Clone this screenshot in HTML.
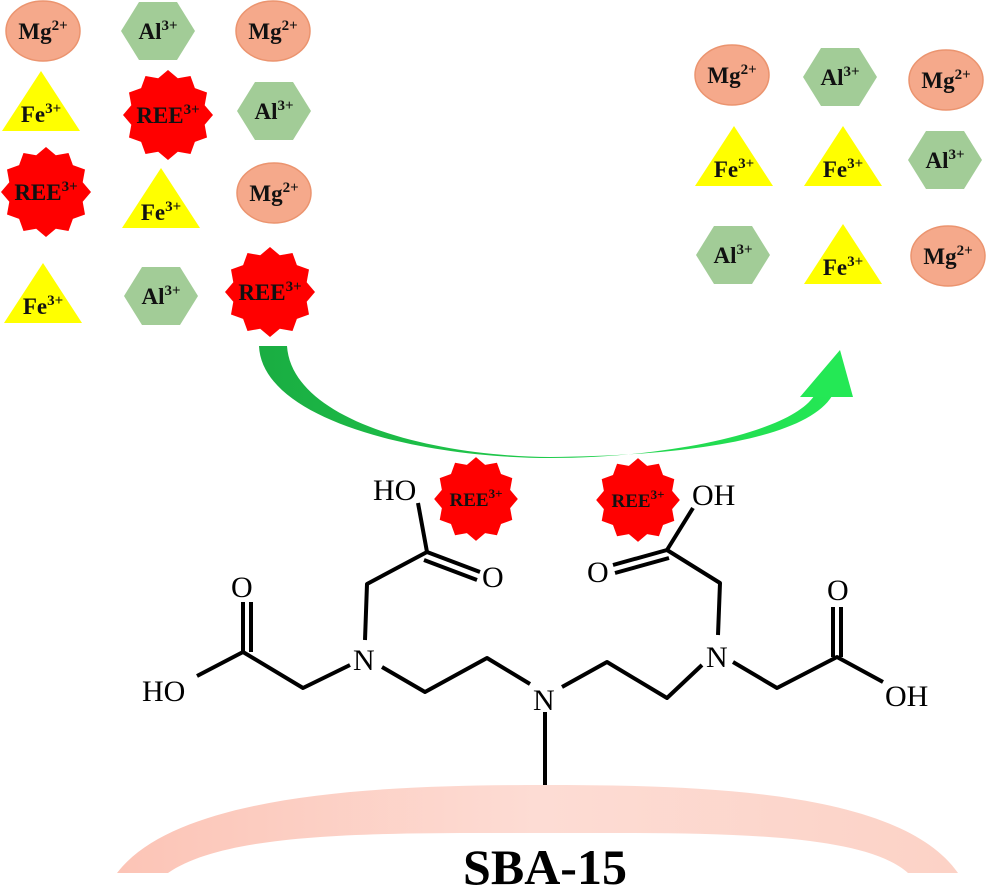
<!DOCTYPE html>
<html><head><meta charset="utf-8"><style>
html,body{margin:0;padding:0;background:#fff;}
svg{display:block;}
.ion{font-family:"Liberation Serif",serif;font-weight:bold;font-size:23px;fill:#111;}
.sup{font-size:15px;}
.chem{font-family:"Liberation Serif",serif;font-size:30px;fill:#000;}
.b{stroke:#000;stroke-width:4;fill:none;stroke-linecap:butt;stroke-linejoin:round;}
</style></head><body>
<svg width="990" height="886" viewBox="0 0 990 886" xmlns="http://www.w3.org/2000/svg">
<defs>
<polygon id="star" points="0,-45 9.8,-36.7 22.5,-39 26.9,-26.9 39,-22.5 36.7,-9.8 45,0 36.7,9.8 39,22.5 26.9,26.9 22.5,39 9.8,36.7 0,45 -9.8,36.7 -22.5,39 -26.9,26.9 -39,22.5 -36.7,9.8 -45,0 -36.7,-9.8 -39,-22.5 -26.9,-26.9 -22.5,-39 -9.8,-36.7" fill="#ff0000"/>
<polygon id="hex" points="-37,0 -19,-29 19,-29 37,0 19,29 -19,29" fill="#a2cc97"/>
<ellipse id="mg" cx="0" cy="0" rx="37" ry="30" fill="#f5a98b" stroke="#eb946f" stroke-width="1.5"/>
<polygon id="tri" points="0,-30 39,30 -39,30" fill="#ffff00"/>
<linearGradient id="ag" x1="0" y1="0" x2="1" y2="0">
<stop offset="0" stop-color="#1aad42"/><stop offset="1" stop-color="#24e855"/></linearGradient>
<linearGradient id="sg" x1="0" y1="0" x2="1" y2="0">
<stop offset="0" stop-color="#fcc4b6"/><stop offset="0.5" stop-color="#fddcd4"/><stop offset="1" stop-color="#fcd2c6"/></linearGradient>
</defs>

<!-- left group -->
<use href="#mg" x="43" y="31"/><text class="ion" x="43" y="39" text-anchor="middle">Mg<tspan class="sup" dy="-9">2+</tspan></text>
<use href="#hex" x="158" y="31"/><text class="ion" x="158" y="39" text-anchor="middle">Al<tspan class="sup" dy="-9">3+</tspan></text>
<use href="#mg" x="273" y="31"/><text class="ion" x="273" y="39" text-anchor="middle">Mg<tspan class="sup" dy="-9">2+</tspan></text>

<use href="#tri" x="41" y="101"/><text class="ion" x="41" y="122" text-anchor="middle">Fe<tspan class="sup" dy="-9">3+</tspan></text>
<use href="#star" x="168" y="115"/><text class="ion" x="168" y="123" text-anchor="middle">REE<tspan class="sup" dy="-9">3+</tspan></text>
<use href="#hex" x="274" y="111"/><text class="ion" x="274" y="119" text-anchor="middle">Al<tspan class="sup" dy="-9">3+</tspan></text>

<use href="#star" x="46" y="192"/><text class="ion" x="46" y="200" text-anchor="middle">REE<tspan class="sup" dy="-9">3+</tspan></text>
<use href="#tri" x="161" y="198"/><text class="ion" x="161" y="220" text-anchor="middle">Fe<tspan class="sup" dy="-9">3+</tspan></text>
<use href="#mg" x="274" y="193"/><text class="ion" x="274" y="201" text-anchor="middle">Mg<tspan class="sup" dy="-9">2+</tspan></text>

<use href="#tri" x="43" y="293"/><text class="ion" x="43" y="314" text-anchor="middle">Fe<tspan class="sup" dy="-9">3+</tspan></text>
<use href="#hex" x="161" y="296"/><text class="ion" x="161" y="304" text-anchor="middle">Al<tspan class="sup" dy="-9">3+</tspan></text>
<use href="#star" x="270" y="292"/><text class="ion" x="270" y="300" text-anchor="middle">REE<tspan class="sup" dy="-9">3+</tspan></text>

<!-- right group -->
<use href="#mg" x="732" y="75"/><text class="ion" x="732" y="83" text-anchor="middle">Mg<tspan class="sup" dy="-9">2+</tspan></text>
<use href="#hex" x="840" y="77"/><text class="ion" x="840" y="85" text-anchor="middle">Al<tspan class="sup" dy="-9">3+</tspan></text>
<use href="#mg" x="946" y="80"/><text class="ion" x="946" y="88" text-anchor="middle">Mg<tspan class="sup" dy="-9">2+</tspan></text>

<use href="#tri" x="734" y="156"/><text class="ion" x="734" y="177" text-anchor="middle">Fe<tspan class="sup" dy="-9">3+</tspan></text>
<use href="#tri" x="843" y="156"/><text class="ion" x="843" y="177" text-anchor="middle">Fe<tspan class="sup" dy="-9">3+</tspan></text>
<use href="#hex" x="945" y="160"/><text class="ion" x="945" y="168" text-anchor="middle">Al<tspan class="sup" dy="-9">3+</tspan></text>

<use href="#hex" x="733" y="255"/><text class="ion" x="733" y="263" text-anchor="middle">Al<tspan class="sup" dy="-9">3+</tspan></text>
<use href="#tri" x="843" y="254"/><text class="ion" x="843" y="275" text-anchor="middle">Fe<tspan class="sup" dy="-9">3+</tspan></text>
<use href="#mg" x="948" y="256"/><text class="ion" x="948" y="264" text-anchor="middle">Mg<tspan class="sup" dy="-9">2+</tspan></text>

<!-- arrow -->
<path d="M259,346 C262,420 420,458 550,458 C670,458 790,432 814,396 L832,396 C805,440 680,456 550,457 C430,456 292,420 287,346 Z" fill="url(#ag)"/>
<polygon points="800,397 853,397 840,350" fill="#24e855"/>

<!-- molecule -->
<path class="b" d="M418,503 L427,552 L367,584 L365,640"/>
<path class="b" d="M427,552 L480,572 M424,560 L477,580"/>
<path class="b" d="M350,665 L303,688 L243,652 L197,676"/>
<path class="b" d="M243,652 L243,602 M251,652 L251,602"/>
<path class="b" d="M382,667 L425,692 L487,658 L530,684"/>
<path class="b" d="M545,712 L545,785"/>
<path class="b" d="M562,687 L607,662 L667,698 L702,665"/>
<path class="b" d="M718,635 L720,583 L667,550 L693,508"/>
<path class="b" d="M667,550 L613,565 M669,558 L615,573"/>
<path class="b" d="M733,662 L777,688 L837,657 L883,682"/>
<path class="b" d="M833,657 L833,607 M841,657 L841,607"/>

<text class="chem" x="373" y="500">HO</text>
<text class="chem" x="482" y="587">O</text>
<text class="chem" x="353" y="670">N</text>
<text class="chem" x="231" y="597">O</text>
<text class="chem" x="142" y="701">HO</text>
<text class="chem" x="533" y="710">N</text>
<text class="chem" x="706" y="667">N</text>
<text class="chem" x="587" y="582">O</text>
<text class="chem" x="692" y="505">OH</text>
<text class="chem" x="827" y="600">O</text>
<text class="chem" x="885" y="706">OH</text>

<use href="#star" transform="translate(476,499) scale(0.93)"/>
<text class="ion" x="476" y="506" text-anchor="middle" style="font-size:19px">REE<tspan class="sup" dy="-8" style="font-size:13px">3+</tspan></text>
<use href="#star" transform="translate(638,500) scale(0.93)"/>
<text class="ion" x="638" y="507" text-anchor="middle" style="font-size:19px">REE<tspan class="sup" dy="-8" style="font-size:13px">3+</tspan></text>

<!-- SBA-15 -->
<path d="M117,873 C180,790 400,785 545,785 C700,785 900,790 958,873 L908,873 C860,830 700,833 545,833 C390,833 230,830 168,873 Z" fill="url(#sg)"/>
<text x="545" y="884" text-anchor="middle" style="font-family:'Liberation Serif',serif;font-weight:bold;font-size:50px;fill:#000">SBA-15</text>
</svg>
</body></html>
